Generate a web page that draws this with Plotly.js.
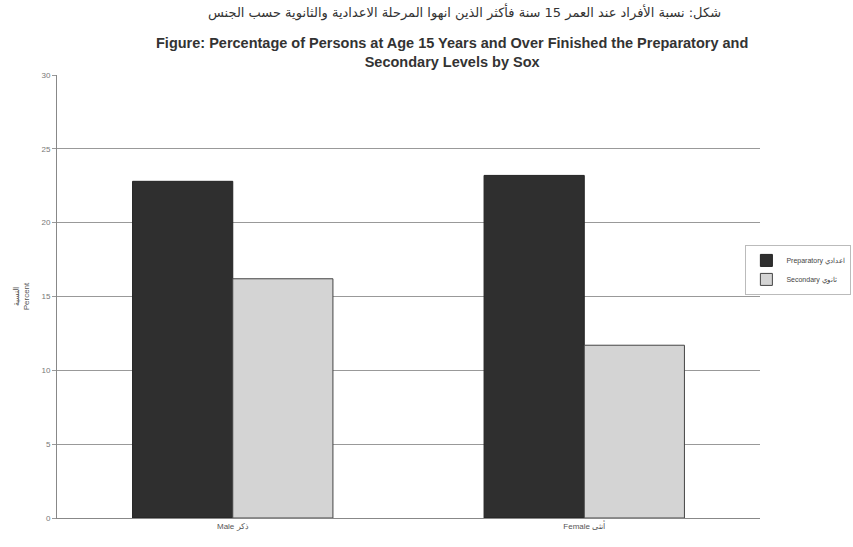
<!DOCTYPE html>
<html>
<head>
<meta charset="utf-8">
<script src="https://cdn.plot.ly/plotly-3.0.1.min.js"></script>
<style>html,body{margin:0;padding:0;background:#fff;}#chart{width:853px;height:547px;}</style>
</head>
<body>
<div id="chart"></div>
<script>
const categories = ['Male ذكر', 'Female أنثى'];
const preparatory = [22.8, 23.2];
const secondary = [16.2, 11.7];
const seriesNames = ['Preparatory اعدادي', 'Secondary ثانوي'];
const yTicks = [0, 5, 10, 15, 20, 25, 30];
const titleArabic = 'شكل: نسبة الأفراد عند العمر 15 سنة فأكثر الذين انهوا المرحلة الاعدادية والثانوية حسب الجنس';
const titleEnglish = '<b>Figure: Percentage of Persons at Age 15 Years and Over Finished the Preparatory and</b><br><b>Secondary Levels by Sox</b>';

const traces = [
  {type: 'bar', name: seriesNames[0], x: categories, y: preparatory,
   marker: {color: '#2f2f2f', line: {color: '#222', width: 1}}},
  {type: 'bar', name: seriesNames[1], x: categories, y: secondary,
   marker: {color: '#d4d4d4', line: {color: '#444', width: 1}}}
];

const layout = {
  width: 853, height: 547,
  paper_bgcolor: '#fff', plot_bgcolor: '#fff',
  margin: {l: 57, r: 93, t: 75, b: 29, autoexpand: false},
  barmode: 'group', bargap: 0.43, bargroupgap: 0,
  font: {family: 'Liberation Sans, Arial, sans-serif', color: '#444'},
  annotations: [
    {text: titleArabic, xref: 'paper', yref: 'paper', x: 0.58, y: 1.143, xanchor: 'center', yanchor: 'middle',
     showarrow: false, font: {size: 13, color: '#333', family: 'DejaVu Sans, sans-serif'}},
    {text: titleEnglish, xref: 'paper', yref: 'paper', x: 0.562, y: 1.05, xanchor: 'center', yanchor: 'middle',
     showarrow: false, font: {size: 14.5, color: '#333', family: 'Liberation Sans, Arial, sans-serif'}}
  ],
  xaxis: {
    showgrid: false, showline: true, linecolor: '#888', ticks: '',
    tickfont: {size: 8, color: '#555'}
  },
  yaxis: {
    range: [0, 30], tickvals: yTicks, showgrid: true, gridcolor: '#999', gridwidth: 1,
    showline: true, linecolor: '#888', ticks: 'outside', ticklen: 4, tickcolor: '#999',
    tickfont: {size: 8, color: '#777'}, zeroline: false,
    title: {text: 'النسبة<br>Percent', font: {size: 8, color: '#555'}, standoff: 10}
  },
  legend: {
    x: 1.13, xanchor: 'right', y: 0.56, yanchor: 'middle',
    bordercolor: '#bbb', borderwidth: 1, bgcolor: '#fff',
    font: {size: 7, color: '#444'}, itemwidth: 30, tracegroupgap: 0
  },
  showlegend: true
};

Plotly.newPlot('chart', traces, layout, {displayModeBar: false, staticPlot: true});
</script>
</body>
</html>
